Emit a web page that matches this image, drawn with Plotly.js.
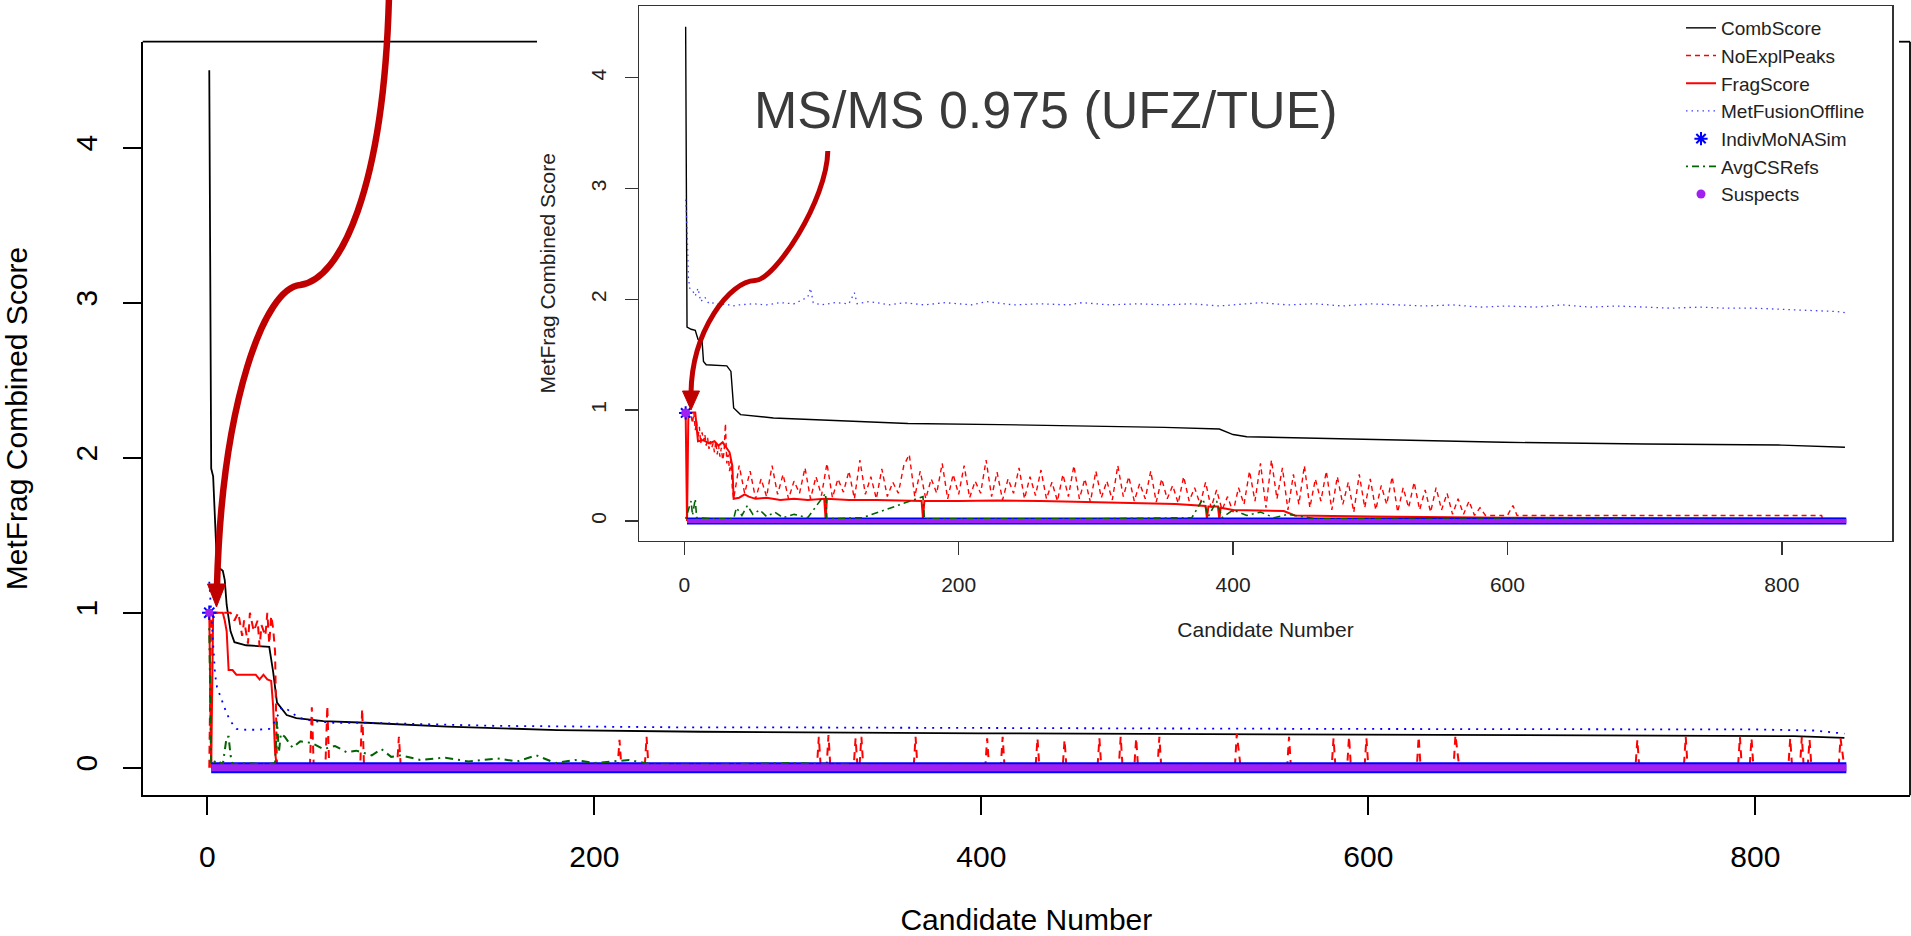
<!DOCTYPE html>
<html><head><meta charset="utf-8">
<script src="https://cdn.plot.ly/plotly-3.0.1.min.js"></script>
<style>html,body{margin:0;padding:0;background:#fff;}#chart{width:1911px;height:936px;}</style>
</head><body><div id="chart"></div>
<script>
// ===== Main plot data (candidate number vs score) =====
const mainCombX = [1,2,3,4,5,8,9,10,11,12,14,20,32,34,36,41,46,60,82,124,181,255,400,590,700,774,820,846];
const mainCombY = [4.5,1.93,1.88,1.6,1.3,1.27,1.21,1.05,0.97,0.88,0.81,0.79,0.78,0.62,0.42,0.34,0.32,0.3,0.29,0.265,0.243,0.232,0.222,0.215,0.212,0.206,0.204,0.193];

const mainNoExplX = [1,2,12,14,16,18,19,21,22,24,26,27,28,30,31,32,33,34,35,36,
 53,54,55,61,62,63,79,80,81,98,99,100,212,213,214,226,227,228,
 315,316,317,320,321,322,334,335,336,337,338,339,365,366,367,
 402,403,404,410,411,412,428,429,430,442,443,444,460,461,462,
 471,472,473,479,480,481,491,492,493,531,532,534,558,559,560,
 581,582,583,589,590,591,598,599,600,625,626,627,644,645,647,
 738,739,740,763,764,765,791,792,793,797,798,799,817,818,819,
 823,824,825,827,828,829,843,844,846];
const mainNoExplY = [0,1.0,1.0,0.95,1.0,0.85,0.95,0.8,1.0,0.88,0.95,0.78,0.92,0.85,1.0,0.8,0.98,0.9,0.75,0,
 0,0.39,0,0,0.4,0,0,0.38,0,0,0.2,0,0,0.18,0,0,0.2,0,
 0,0.2,0,0,0.21,0,0,0.19,0,0,0.2,0,0,0.2,0,
 0,0.19,0,0,0.2,0,0,0.19,0,0,0.18,0,0,0.19,0,
 0,0.2,0,0,0.19,0,0,0.2,0,0,0.22,0,0,0.2,0,
 0,0.19,0,0,0.2,0,0,0.19,0,0,0.2,0,0,0.21,0,
 0,0.18,0,0,0.2,0,0,0.2,0,0,0.19,0,0,0.19,0,
 0,0.2,0,0,0.18,0,0,0.19,0];

const mainFragX = [1,2,3,8,9,10,11,13,15,20,25,27,29,31,33,34,35,36,846];
const mainFragY = [1.0,0,1.0,1.0,0.95,0.88,0.63,0.63,0.6,0.6,0.6,0.57,0.6,0.57,0.56,0.4,0.1,0,0];

const mainFusX = [1,2,3,4,5,7,9,10,12,15,20,25,32,35,38,40,44,48,55,65,80,100,123,150,200,250,300,400,500,600,700,800,830,846];
const mainFusY = [1.2,0.98,0.75,0.6,0.52,0.45,0.39,0.35,0.3,0.25,0.245,0.245,0.25,0.3,0.38,0.39,0.35,0.32,0.3,0.29,0.29,0.285,0.28,0.27,0.265,0.26,0.26,0.255,0.253,0.25,0.25,0.247,0.24,0.22];

const mainIndivX = [1,2,847];
const mainIndivY = [1.0,0,0];

const mainAvgX = [1,2,5,8,10,11,12,13,20,30,35,36,37,38,40,44,48,54,60,66,72,77,85,90,95,100,110,123,135,150,160,170,180,190,200,218,230,260,300,350,500,846];
const mainAvgY = [0.9,0.02,0.05,0.02,0.2,0.2,0.08,0.02,0.03,0.02,0.03,0.3,0.1,0.22,0.2,0.13,0.17,0.16,0.12,0.14,0.1,0.11,0.08,0.12,0.07,0.08,0.05,0.065,0.04,0.06,0.04,0.08,0.03,0.05,0.03,0.05,0.02,0.02,0.03,0.015,0.015,0.01];

const mainSuspX = [1,2,847];
const mainSuspY = [1.0,0,0];

// ===== Inset plot data =====
const insCombX = [1,2,5,8,10,13,14,16,31,34,36,41,65,100,163,230,293,350,390,400,410,450,500,597,700,800,846];
const insCombY = [4.46,1.75,1.73,1.72,1.64,1.62,1.44,1.41,1.4,1.35,1.02,0.96,0.93,0.91,0.88,0.87,0.858,0.845,0.83,0.78,0.76,0.75,0.735,0.71,0.695,0.685,0.665];

const insNoExplX = [1,2,3,5,6,7,8,9,10,11,12,13,14,15,16,17,18,19,20,21,22,23,24,25,26,27,28,29,30,31,32,33,34,35,
 36,40,44,48,52,56,60,64,68,72,76,80,84,88,92,96,100,104,108,112,116,120,124,128,132,136,140,144,148,152,156,160,164,
 168,172,176,180,184,188,192,196,200,204,208,212,216,220,224,228,232,236,240,244,248,252,256,260,264,
 268,272,276,280,284,288,292,296,300,304,308,312,316,320,324,328,332,336,340,344,348,352,356,360,364,368,372,376,380,
 384,388,392,396,400,404,408,412,416,420,424,428,432,436,440,444,448,452,456,460,464,468,472,476,480,484,488,492,496,500,
 504,508,512,516,520,524,528,532,536,540,544,548,552,556,560,564,568,572,576,580,
 584,600,604,607,829,830,846];
const insNoExplY = [1.0,1.0,0.98,0.95,0.88,0.98,0.82,0.9,0.75,0.85,0.7,0.8,0.72,0.78,0.68,0.75,0.65,0.72,0.66,0.7,0.62,0.72,0.6,0.68,0.58,0.66,0.55,0.62,0.88,0.52,0.6,0.45,0.55,0.3,
 0.2,0.5,0.25,0.45,0.2,0.38,0.22,0.5,0.24,0.42,0.2,0.36,0.25,0.48,0.2,0.4,0.23,0.52,0.21,0.38,0.26,0.45,0.2,0.55,0.24,0.4,0.2,0.47,0.22,0.35,0.25,0.5,0.6,
 0.22,0.45,0.2,0.38,0.25,0.52,0.2,0.42,0.24,0.5,0.21,0.36,0.25,0.55,0.22,0.44,0.19,0.38,0.25,0.48,0.2,0.4,0.23,0.46,0.2,
 0.35,0.18,0.42,0.22,0.5,0.2,0.38,0.17,0.45,0.21,0.36,0.19,0.5,0.22,0.4,0.18,0.34,0.2,0.45,0.17,0.38,0.2,0.32,0.16,0.4,0.18,0.3,0.15,0.35,
 0.12,0.28,0.1,0.22,0.08,0.3,0.15,0.45,0.18,0.52,0.12,0.55,0.2,0.48,0.1,0.42,0.15,0.5,0.12,0.38,0.18,0.45,0.1,0.4,0.15,0.35,0.08,0.42,0.12,0.38,
 0.1,0.32,0.15,0.4,0.08,0.3,0.12,0.35,0.1,0.28,0.08,0.3,0.1,0.25,0.06,0.2,0.06,0.18,0.05,0.12,
 0.05,0.05,0.14,0.05,0.05,0,0];

const insFragX = [1,2,3,8,9,10,14,18,22,25,28,31,33,35,36,40,44,47,52,60,70,80,90,102,103,104,120,140,163,173,174,175,200,228,260,293,320,358,380,381,382,389,390,391,400,412,437,445,500,600,700,846];
const insFragY = [0.98,0,0.98,0.98,0.85,0.72,0.73,0.7,0.72,0.68,0.71,0.66,0.62,0.5,0.2,0.21,0.24,0.22,0.2,0.21,0.19,0.2,0.19,0.2,0.02,0.2,0.19,0.19,0.185,0.18,0.02,0.18,0.18,0.185,0.18,0.17,0.165,0.153,0.136,0.02,0.13,0.13,0.02,0.12,0.1,0.095,0.09,0.05,0.04,0.03,0.025,0.02];

const insFusX = [1,2,3,4,6,8,10,12,15,18,22,26,30,35,40,50,60,70,80,90,92,94,100,110,120,124,126,135,150,160,175,190,210,220,240,260,280,290,310,330,350,370,390,410,420,440,460,480,500,520,540,560,580,600,620,640,660,680,700,720,740,760,780,800,820,840,846];
const insFusY = [2.9,2.65,2.2,2.1,2.08,2.03,2.1,1.98,2.02,1.96,1.97,1.95,1.96,1.94,1.95,1.96,1.95,1.97,1.96,2.02,2.1,1.97,1.95,1.97,1.96,2.06,1.96,1.98,1.95,1.97,1.95,1.97,1.95,1.98,1.95,1.96,1.95,1.97,1.95,1.96,1.95,1.96,1.94,1.96,1.97,1.95,1.96,1.94,1.96,1.95,1.94,1.95,1.93,1.94,1.93,1.95,1.93,1.94,1.93,1.92,1.93,1.92,1.92,1.91,1.9,1.89,1.88];

const insIndivX = [1,2,847];
const insIndivY = [0.975,0,0];

const insAvgX = [1,5,6,8,9,20,36,38,42,46,50,55,60,66,72,80,90,103,104,130,174,175,200,300,370,378,382,388,392,400,410,420,430,440,460,846];
const insAvgY = [0.02,0.18,0.05,0.2,0.03,0.02,0.02,0.12,0.05,0.14,0.06,0.1,0.04,0.08,0.03,0.06,0.03,0.25,0.02,0.03,0.22,0.02,0.02,0.02,0.03,0.2,0.04,0.18,0.03,0.1,0.05,0.08,0.03,0.06,0.02,0.01];

const insSuspX = [1,2,847];
const insSuspY = [0.975,0,0];

const seriesNames = ['CombScore','NoExplPeaks','FragScore','MetFusionOffline','IndivMoNASim','AvgCSRefs','Suspects'];
const xTicks = [0,200,400,600,800];
const yTicks = [0,1,2,3,4];
const xTitle = 'Candidate Number';
const yTitle = 'MetFrag Combined Score';
const noteText = 'MS/MS 0.975 (UFZ/TUE)';

// ===== layout helpers (pixel -> paper) =====
const W = 1911, H = 936;
const PX = x => x / W;
const PY = y => 1 - y / H;
const P = (x, y) => PX(x).toFixed(5) + ',' + PY(y).toFixed(5);
const FONT = '"Liberation Sans", Arial, sans-serif';

function line(x, y, xa, ya, name, color, width, dash, legend) {
  return {type: 'scatter', mode: 'lines', x: x, y: y, xaxis: xa, yaxis: ya, name: name,
    line: {color: color, width: width, dash: dash || 'solid'}, showlegend: !!legend, hoverinfo: 'skip'};
}
function band(x, y, xa, ya, name, color, width) {
  return {type: 'scatter', mode: 'lines', x: x.slice(1), y: y.slice(1), xaxis: xa, yaxis: ya, name: name,
    line: {color: color, width: width}, showlegend: false, hoverinfo: 'skip'};
}
function pt(x, y, xa, ya, name, marker, legend) {
  return {type: 'scatter', mode: 'markers', x: x.slice(0, 1), y: y.slice(0, 1), xaxis: xa, yaxis: ya, name: name,
    marker: marker, showlegend: !!legend, hoverinfo: 'skip'};
}

const BLUE = '#0000FF', RED = '#FF0000', GREEN = '#006400', PURPLE = '#A020F0';

const traces = [
  // main plot
  line(mainCombX, mainCombY, 'x', 'y', seriesNames[0], '#000000', 1.8),
  line(mainNoExplX, mainNoExplY, 'x', 'y', seriesNames[1], RED, 2, '8px,6px'),
  line(mainFragX, mainFragY, 'x', 'y', seriesNames[2], RED, 2),
  line(mainFusX, mainFusY, 'x', 'y', seriesNames[3], BLUE, 1.8, '2px,6px'),
  band(mainIndivX, mainIndivY, 'x', 'y', seriesNames[4], BLUE, 11),
  pt(mainIndivX, mainIndivY, 'x', 'y', seriesNames[4], {symbol: 'asterisk-open', size: 12, color: BLUE, line: {color: BLUE, width: 2}}),
  line(mainAvgX, mainAvgY, 'x', 'y', seriesNames[5], GREEN, 2, '2px,5px,8px,5px'),
  band(mainSuspX, mainSuspY, 'x', 'y', seriesNames[6], PURPLE, 7),
  pt(mainSuspX, mainSuspY, 'x', 'y', seriesNames[6], {symbol: 'circle', size: 8, color: PURPLE}),
  // inset plot
  line(insCombX, insCombY, 'x2', 'y2', seriesNames[0], '#000000', 1.4, 'solid', true),
  line(insNoExplX, insNoExplY, 'x2', 'y2', seriesNames[1], RED, 1.4, '5px,4px', true),
  line(insFragX, insFragY, 'x2', 'y2', seriesNames[2], RED, 2, 'solid', true),
  line(insFusX, insFusY, 'x2', 'y2', seriesNames[3], '#4040FF', 1.3, '1.5px,4px', true),
  band(insIndivX, insIndivY, 'x2', 'y2', seriesNames[4], BLUE, 7),
  pt(insIndivX, insIndivY, 'x2', 'y2', seriesNames[4], {symbol: 'asterisk-open', size: 11, color: BLUE, line: {color: BLUE, width: 2}}, true),
  line(insAvgX, insAvgY, 'x2', 'y2', seriesNames[5], GREEN, 1.6, '2px,4px,7px,4px', true),
  band(insSuspX, insSuspY, 'x2', 'y2', seriesNames[6], PURPLE, 4),
  pt(insSuspX, insSuspY, 'x2', 'y2', seriesNames[6], {symbol: 'circle', size: 9, color: PURPLE}, true)
];

function axisBase(o) {
  return Object.assign({showgrid: false, zeroline: false, showline: true, ticks: 'outside', fixedrange: true}, o);
}

const layout = {
  width: W, height: H,
  margin: {l: 0, r: 0, t: 0, b: 0, pad: 0},
  paper_bgcolor: '#ffffff', plot_bgcolor: '#ffffff',
  showlegend: true,
  font: {family: FONT, color: '#000'},
  xaxis: axisBase({domain: [PX(142.7), PX(1910)], range: [-33.4, 879.9], anchor: 'y',
    tickvals: xTicks, ticklen: 18, tickwidth: 1.8, tickcolor: '#000', linecolor: '#000', linewidth: 1.8,
    tickfont: {family: FONT, size: 30, color: '#000'}, ticklabelstandoff: 16,
    title: {text: xTitle, standoff: 45, font: {family: FONT, size: 30, color: '#000'}}}),
  yaxis: axisBase({domain: [PY(795.3), PY(41.7)], range: [-0.178, 4.684], anchor: 'x',
    tickvals: yTicks, ticklen: 18, tickwidth: 1.8, tickcolor: '#000', linecolor: '#000', linewidth: 1.8,
    tickangle: -90, tickfont: {family: FONT, size: 30, color: '#000'}, ticklabelstandoff: 14,
    title: {text: yTitle, standoff: 40, font: {family: FONT, size: 30, color: '#000'}}}),
  xaxis2: axisBase({domain: [PX(639), PX(1892)], range: [-33.0, 880.3], anchor: 'y2', mirror: true,
    tickvals: xTicks, ticklen: 13, tickwidth: 1.5, tickcolor: '#333', linecolor: '#333', linewidth: 1.5,
    tickfont: {family: FONT, size: 21, color: '#222'}, ticklabelstandoff: 12,
    title: {text: xTitle, standoff: 27, font: {family: FONT, size: 21, color: '#222'}}}),
  yaxis2: axisBase({domain: [PY(540.5), PY(6)], range: [-0.176, 4.647], anchor: 'x2', mirror: true,
    tickvals: yTicks, ticklen: 13, tickwidth: 1.5, tickcolor: '#333', linecolor: '#333', linewidth: 1.5,
    tickangle: -90, tickfont: {family: FONT, size: 21, color: '#222'}, ticklabelstandoff: 10,
    title: {text: yTitle, standoff: 25, font: {family: FONT, size: 21, color: '#222'}}}),
  legend: {x: PX(1681), y: PY(9), xanchor: 'left', yanchor: 'top', bgcolor: 'rgba(0,0,0,0)', borderwidth: 0,
    font: {family: FONT, size: 19, color: '#222'}, tracegroupgap: 0, itemclick: false, itemdoubleclick: false},
  annotations: [{
    xref: 'paper', yref: 'paper', x: PX(1045.8), y: PY(110), xanchor: 'center', yanchor: 'middle',
    text: noteText, showarrow: false, font: {family: FONT, size: 52, color: '#3a3a3a'}
  }],
  shapes: [
    // main frame top/right (the inset image hides the middle part of the top edge)
    {type: 'line', xref: 'paper', yref: 'paper', x0: PX(142.7), x1: PX(537), y0: PY(41.7), y1: PY(41.7), line: {color: '#000', width: 1.8}, layer: 'below'},
    {type: 'line', xref: 'paper', yref: 'paper', x0: PX(1899), x1: PX(1910), y0: PY(41.7), y1: PY(41.7), line: {color: '#000', width: 1.8}, layer: 'below'},
    {type: 'line', xref: 'paper', yref: 'paper', x0: PX(1910), x1: PX(1910), y0: PY(41.7), y1: PY(795.3), line: {color: '#000', width: 1.8}, layer: 'below'},
    // big red arrow
    {type: 'path', xref: 'paper', yref: 'paper', layer: 'above',
      path: 'M' + P(389, -4) + ' C' + P(384, 190) + ' ' + P(340, 280) + ' ' + P(300, 285) + ' C' + P(265, 288) + ' ' + P(222, 400) + ' ' + P(217, 586),
      line: {color: '#C00000', width: 6.5}},
    {type: 'path', xref: 'paper', yref: 'paper', layer: 'above',
      path: 'M' + P(207.5, 584) + ' L' + P(225.5, 584) + ' L' + P(216.5, 607) + ' Z',
      fillcolor: '#C00000', line: {color: '#C00000', width: 1}},
    // inset red arrow
    {type: 'path', xref: 'paper', yref: 'paper', layer: 'above',
      path: 'M' + P(827.8, 151) + ' C' + P(827, 200) + ' ' + P(775, 280) + ' ' + P(755, 280.5) + ' C' + P(730, 281) + ' ' + P(692, 330) + ' ' + P(691, 393),
      line: {color: '#C00000', width: 5}},
    {type: 'path', xref: 'paper', yref: 'paper', layer: 'above',
      path: 'M' + P(682.5, 391) + ' L' + P(699.5, 391) + ' L' + P(691, 410) + ' Z',
      fillcolor: '#C00000', line: {color: '#C00000', width: 1}}
  ]
};

Plotly.newPlot('chart', traces, layout, {staticPlot: true, displayModeBar: false});
</script></body></html>
